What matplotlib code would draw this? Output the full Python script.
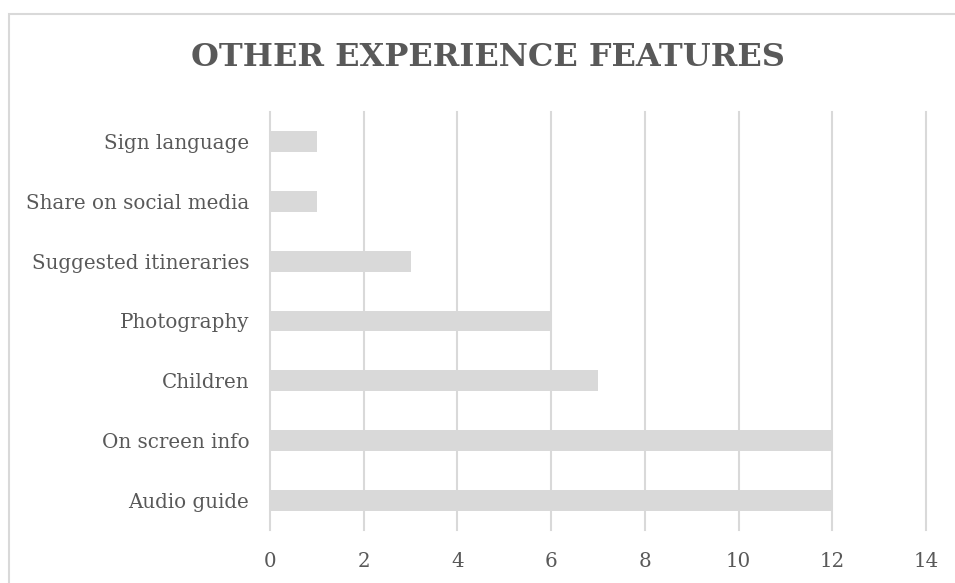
import matplotlib
matplotlib.use("Agg")
import matplotlib.pyplot as plt
from matplotlib.patches import Rectangle

categories = ["Audio guide", "On screen info", "Children", "Photography",
              "Suggested itineraries", "Share on social media", "Sign language"]
counts = [12, 12, 7, 6, 3, 1, 1]
x_ticks = [0, 2, 4, 6, 8, 10, 12, 14]

text_color = "#595959"
grid_color = "#d9d9d9"
bar_color = "#d9d9d9"

plt.rcParams["font.family"] = ["DejaVu Serif"]

fig = plt.figure(figsize=(9.55, 5.83), dpi=100)
ax = fig.add_axes([270 / 955, 1 - 530 / 583, (926 - 270) / 955, (530 - 112) / 583])

ypos = list(range(len(categories)))
ax.barh(ypos, counts, height=0.35, color=bar_color, zorder=2)

ax.set_xlim(0, 14)
ax.set_ylim(-0.5, len(categories) - 0.5)
ax.set_xticks(x_ticks)
ax.set_xticklabels([str(t) for t in x_ticks])
ax.set_yticks(ypos)
ax.set_yticklabels(categories)
ax.tick_params(axis="both", length=0, colors=text_color, labelsize=14.3)
ax.tick_params(axis="y", pad=15)
ax.tick_params(axis="x", pad=16)
ax.xaxis.grid(True, color=grid_color, linewidth=1.5, zorder=0)
for gl in ax.get_xgridlines():
    gl.set_clip_on(False)
ax.set_axisbelow(True)
for s in ax.spines.values():
    s.set_visible(False)

fig.text(488 / 955, 1 - 58 / 583, "OTHER EXPERIENCE FEATURES", ha="center", va="center",
         fontsize=23, fontweight="bold", color=text_color)

# chart frame
fig.patches.append(Rectangle((8.5 / 955, -0.1), 1.2, 1 - 14 / 583 + 0.1,
                             transform=fig.transFigure, fill=False,
                             edgecolor=grid_color, linewidth=1.5))

fig.savefig("out.png", dpi=100)
